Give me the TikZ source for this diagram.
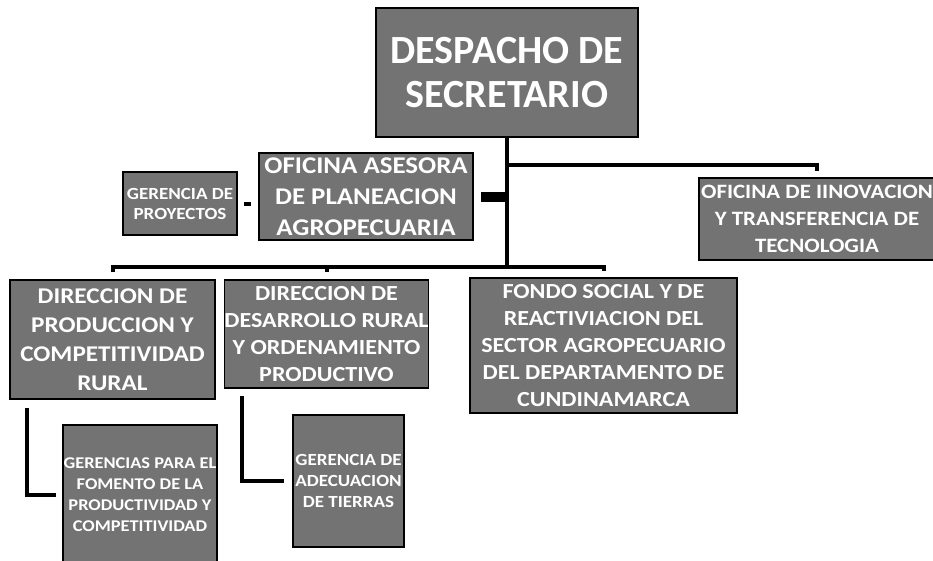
\documentclass[tikz,border=0pt]{standalone}
\usepackage{fontspec}
\setmainfont{Carlito}
\newfontfamily\wide[FakeStretch=1.12]{Carlito}
\begin{document}
\begin{tikzpicture}[x=1pt,y=1pt,
  box/.style={draw=black,line width=1.5pt,fill=black!55,text=white,align=center,inner sep=0pt},
  link/.style={line width=4pt}]
  \useasboundingbox (0,0) rectangle (933,-560);

  \node [box,minimum width=262pt,minimum height=129pt,font=\bfseries\fontsize{40}{44}\selectfont] (despacho) at (507,-72.5) {DESPACHO DE\\SECRETARIO};
  \node [box,minimum width=214pt,minimum height=87pt,font=\wide\bfseries\fontsize{24}{31}\selectfont] (asesora) at (366,-196.5) {OFICINA ASESORA\\DE PLANEACION\\AGROPECUARIA};
  \node [box,minimum width=114pt,minimum height=63pt,font=\wide\bfseries\fontsize{17}{20}\selectfont] (proyectos) at (180,-203.5) {GERENCIA DE\\PROYECTOS};
  \node [box,minimum width=236pt,minimum height=82pt,font=\wide\bfseries\fontsize{20.4}{27}\selectfont] (innovacion) at (817,-219) {OFICINA DE IINOVACION\\Y TRANSFERENCIA DE\\TECNOLOGIA};

  \node [box,minimum width=205pt,minimum height=119pt,font=\wide\bfseries\fontsize{22.5}{29}\selectfont] (produccion) at (112.5,-339.5) {DIRECCION DE\\PRODUCCION Y\\COMPETITIVIDAD\\RURAL};
  \node [box,minimum width=203pt,minimum height=108pt,font=\wide\bfseries\fontsize{21.5}{27}\selectfont] (desarrollo) at (326.5,-334) {DIRECCION DE\\DESARROLLO RURAL\\Y ORDENAMIENTO\\PRODUCTIVO};
  \node [box,minimum width=267pt,minimum height=135pt,font=\wide\bfseries\fontsize{21.5}{27}\selectfont] (fondo) at (603.5,-345.5) {FONDO SOCIAL Y DE\\REACTIVIACION DEL\\SECTOR AGROPECUARIO\\DEL DEPARTAMENTO DE\\CUNDINAMARCA};

  \node [box,minimum width=154pt,minimum height=140pt,font=\wide\bfseries\fontsize{16.4}{21}\selectfont] (fomento) at (140,-495) {GERENCIAS PARA EL\\FOMENTO DE LA\\PRODUCTIVIDAD Y\\COMPETITIVIDAD};
  \node [box,minimum width=111pt,minimum height=132pt,font=\wide\bfseries\fontsize{17}{21}\selectfont] (tierras) at (348.5,-481) {GERENCIA DE\\ADECUACION\\DE TIERRAS};

  \coordinate (tee) at (507,-165);
  \coordinate (bus) at (507,-267);

  \draw [link] (despacho.south) -- (bus);
  \draw [link] (tee) -| ([yshift=6pt]innovacion.north);
  \draw [line width=10pt,shorten <=7pt] (asesora.east) -- (asesora.east -| bus);
  \draw [line width=4pt,shorten <=6pt,shorten >=7pt] (proyectos.east) -- (proyectos.east -| asesora.west);
  \draw [link] ([yshift=7pt]produccion.north) |- (bus) -| ([yshift=6pt]fondo.north);
  \draw [link] ([yshift=7pt]desarrollo.north) -- (desarrollo.north |- bus);
  \draw [link] ([shift={(18pt,-8pt)}]produccion.south west) |- ([xshift=-6pt]fomento.west);
  \draw [link] ([shift={(18pt,-7pt)}]desarrollo.south west) |- ([xshift=-8pt]tierras.west);
\end{tikzpicture}
\end{document}
